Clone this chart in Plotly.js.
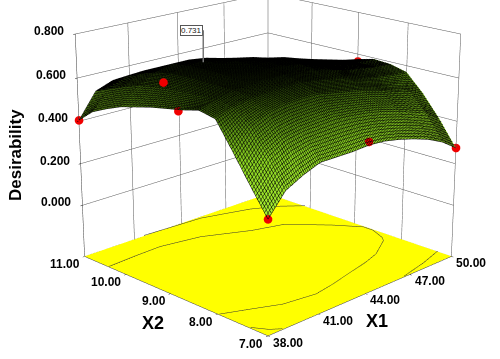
<!DOCTYPE html>
<html><head><meta charset="utf-8">
<script src="https://cdn.plot.ly/plotly-3.0.1.min.js"></script>
<style>html,body{margin:0;padding:0;background:#fff;overflow:hidden;width:500px;height:359px}
#wrap{position:absolute;left:0;top:0;width:500px;height:359px;overflow:hidden}
#plot{position:absolute}</style></head>
<body><div id="wrap"><div id="plot"></div></div>
<script>
const x1Ticks=[38,41,44,47,50];
const x2Ticks=[7,8,9,10,11];
const zTicks=[0,0.2,0.4,0.6,0.8];
const x1Grid=[38,39,40,41,42,43,44,45,46,47,48,49,50];
const x2Grid=[7,7.333,7.667,8,8.333,8.667,9,9.333,9.667,10,10.333,10.667,11];
const desirability=[
[.255,.35,.39,.42,.42,.42,.425,.42,.405,.385,.36,.325,.275],
[.37,.47,.515,.53,.535,.54,.535,.525,.51,.49,.465,.44,.39],
[.49,.575,.61,.625,.63,.63,.615,.60,.585,.565,.54,.52,.49],
[.605,.635,.65,.655,.66,.66,.65,.635,.62,.60,.585,.575,.57],
[.62,.645,.665,.67,.675,.675,.665,.655,.64,.62,.605,.595,.59],
[.60,.64,.665,.675,.68,.68,.675,.665,.645,.625,.61,.595,.595],
[.585,.635,.665,.68,.68,.68,.675,.665,.65,.63,.61,.59,.575],
[.57,.63,.665,.68,.68,.68,.67,.655,.64,.615,.59,.565,.54],
[.55,.62,.66,.675,.68,.67,.655,.64,.61,.58,.55,.52,.48],
[.53,.605,.645,.665,.665,.655,.635,.605,.57,.54,.505,.47,.43],
[.50,.58,.62,.63,.62,.60,.57,.54,.51,.48,.45,.415,.38],
[.465,.55,.59,.595,.58,.55,.52,.49,.46,.43,.40,.35,.30],
[.405,.52,.55,.55,.525,.49,.46,.43,.40,.37,.34,.30,.26]];
const pointX1=[38,38,50,44,38,38,50,50];
const pointX2=[11,7,7,7,9.05,8.75,11,9];
const pointZ=[.405,.255,.275,.44,.695,.59,.445,.565];
const contourAX1=[38,39.7,41.2,43.4,45.7,47.4,49.0,49.88,49.88,49.46,49.2,47.7,46.6,45.2,43.7,42.4,40.6,39.3,38];
const contourAX2=[10.4,10.44,10.46,10.32,9.94,9.76,9.18,8.77,8.57,8.25,8.15,7.87,7.76,7.66,7.55,7.48,7.57,7.77,7.96];
const contourBX1=[41.6,45.1,47.7,49,50];
const contourBX2=[11,10.93,10.66,10.42,10.12];
const contourCX1=[46.6,48.4,50];
const contourCX2=[7,7.12,7.27];
const contourDX1=[38,38.4,38.84];
const contourDX2=[7.34,7.12,7];
const flagValue='0.731';
const zFloor=-0.25, zTop=0.8;

const W=1680,H=1216,offX=-572,offY=-460;
const el=document.getElementById('plot');
el.style.left=offX+'px';el.style.top=offY+'px';el.style.width=W+'px';el.style.height=H+'px';
const px=x=>(x-offX)/W, py=y=>1-(y-offY)/H;
const labelFont={family:'"Liberation Sans",Arial,sans-serif',size:12,color:'#000',weight:700};
const titleFont={family:'"Liberation Sans",Arial,sans-serif',size:18,color:'#000',weight:700};
const bold=s=>'<b>'+s+'</b>';

const floorZ=x2Grid.map(()=>x1Grid.map(()=>zFloor));
const traces=[
 {type:'surface',x:x1Grid,y:x2Grid,z:floorZ,showscale:false,hoverinfo:'skip',
  colorscale:[[0,'#ffff00'],[1,'#ffff00']],cmin:0,cmax:1,surfacecolor:floorZ.map(r=>r.map(()=>.5)),
  lighting:{ambient:1,diffuse:0,specular:0,fresnel:0,roughness:1}},
 {type:'surface',x:x1Grid,y:x2Grid,z:desirability,showscale:false,hoverinfo:'skip',
  cmin:.27,cmax:.68,
  colorscale:[[0,'#a8f030'],[.45,'#88d020'],[.7,'#5c9414'],[.9,'#35580a'],[1,'#142204']],
  lighting:{ambient:.6,diffuse:.75,specular:0,fresnel:0,roughness:1},
  lightposition:{x:-1000,y:-1000,z:600},
  contours:{
   x:{show:true,start:38,end:50,size:.1,color:'#000',width:1,highlight:false},
   y:{show:true,start:7,end:11,size:.033,color:'#000',width:1,highlight:false},
   z:{highlight:false}}},
];
[[contourAX1,contourAX2],[contourBX1,contourBX2],[contourCX1,contourCX2],[contourDX1,contourDX2]].forEach(c=>{
 traces.push({type:'scatter3d',mode:'lines',x:c[0],y:c[1],z:c[0].map(()=>zFloor+.003),
  line:{color:'#333',width:1},hoverinfo:'skip',showlegend:false});
});
traces.push({type:'scatter3d',mode:'markers',x:pointX1,y:pointX2,z:pointZ,hoverinfo:'skip',showlegend:false,
 marker:{color:'#f00000',size:5,line:{color:'#800',width:0}}});

const ann=[];
zTicks.forEach(v=>ann.push({x:38,y:11,z:v,text:bold(v.toFixed(3)),showarrow:false,xanchor:'right',xshift:-9,yshift:3,font:labelFont}));
x1Ticks.forEach(v=>ann.push({x:v,y:7,z:zFloor,text:bold(v.toFixed(2)),showarrow:false,xanchor:'left',xshift:3,yshift:-7,font:labelFont}));
x2Ticks.forEach(v=>ann.push({x:38,y:v,z:zFloor,text:bold(v.toFixed(2)),showarrow:false,xanchor:'right',xshift:-3,yshift:-8,font:labelFont}));
ann.push({x:41.9,y:9.65,z:.675,text:flagValue,showarrow:true,arrowhead:0,arrowcolor:'#777',arrowwidth:1.5,ax:0,ay:-32,xanchor:'right',
 bordercolor:'#555',borderwidth:1,borderpad:0,bgcolor:'#fff',font:{family:'"Liberation Sans",Arial,sans-serif',size:8,color:'#222'}});

const axis=(vals,range)=>({title:{text:''},range:range,tickmode:'array',tickvals:vals,ticktext:vals.map(()=>''),
 showticklabels:false,showgrid:true,gridcolor:'#555',gridwidth:1,zeroline:false,showspikes:false,
 showbackground:false,showline:true,linecolor:'#333',linewidth:1,ticks:'outside',ticklen:2,tickcolor:'#000'});
const layout={width:W,height:H,margin:{l:0,r:0,t:0,b:0},paper_bgcolor:'#fff',showlegend:false,hovermode:false,
 scene:{domain:{x:[0,1],y:[0,1]},aspectmode:'manual',aspectratio:{x:1,y:1,z:.88},
  camera:{eye:{x:-3.71,y:-3.71,z:1.72},center:{x:0,y:0,z:0},up:{x:0,y:0,z:1}},
  xaxis:axis(x1Ticks,[37.999,50.001]),yaxis:axis(x2Ticks,[6.999,11.001]),zaxis:axis(zTicks,[zFloor-.001,zTop]),annotations:ann},
 annotations:[
  {xref:'paper',yref:'paper',x:px(377),y:py(321),text:bold('X1'),showarrow:false,font:titleFont},
  {xref:'paper',yref:'paper',x:px(153),y:py(323),text:bold('X2'),showarrow:false,font:titleFont},
  {xref:'paper',yref:'paper',x:px(15),y:py(155),text:bold('Desirability'),textangle:-90,showarrow:false,font:{...titleFont,size:17}}
 ]};
Plotly.newPlot(el,traces,layout,{displayModeBar:false,responsive:false});
</script></body></html>
